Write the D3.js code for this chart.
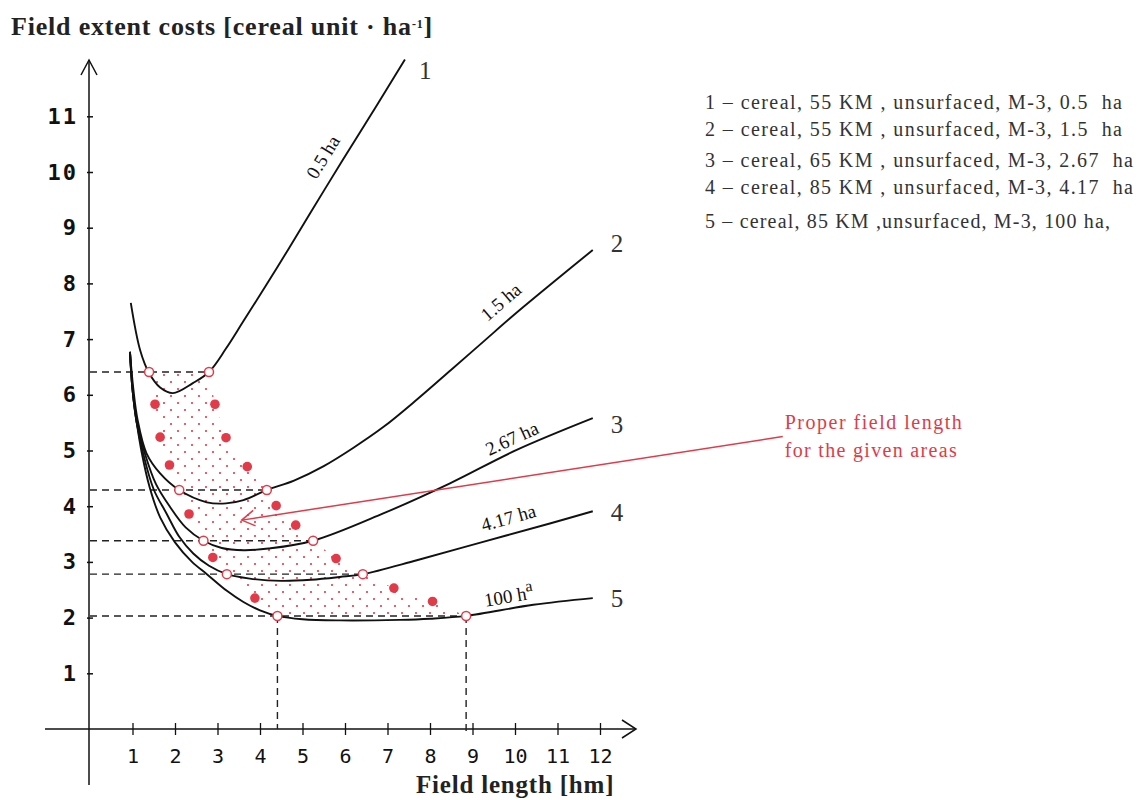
<!DOCTYPE html>
<html>
<head>
<meta charset="utf-8">
<script src="https://cdn.jsdelivr.net/npm/d3@7"></script>
<style>
  body { margin: 0; background: #fff; }
  svg { display: block; }
</style>
</head>
<body>
<svg id="chart" width="1139" height="800"></svg>
<script>
// ---- data ----
const xTicks = [1, 2, 3, 4, 5, 6, 7, 8, 9, 10, 11, 12]
const yTicks = [1, 2, 3, 4, 5, 6, 7, 8, 9, 10, 11]

const curveNames = ["1", "2", "3", "4", "5"]
const curveAreas = ["0.5 ha", "1.5 ha", "2.67 ha", "4.17 ha", "100 h"]
const legendLines = [
  "1 \u2013 cereal, 55 KM , unsurfaced, M-3, 0.5  ha",
  "2 \u2013 cereal, 55 KM , unsurfaced, M-3, 1.5  ha",
  "3 \u2013 cereal, 65 KM , unsurfaced, M-3, 2.67  ha",
  "4 \u2013 cereal, 85 KM , unsurfaced, M-3, 4.17  ha",
  "5 \u2013 cereal, 85 KM ,unsurfaced, M-3, 100 ha,"
]

// cost curves (x = field length hm, y = cost)
const curve1X = [0.96, 1.18, 1.39, 1.65, 1.95, 2.42, 2.80, 3.20, 3.60, 4.40, 5.18, 5.95, 6.75, 7.41]
const curve1Y = [7.65, 6.80, 6.39, 6.13, 6.03, 6.21, 6.41, 6.83, 7.31, 8.28, 9.26, 10.22, 11.20, 12.02]
const curve2X = [0.94, 1.02, 1.12, 1.33, 1.65, 2.10, 2.75, 3.20, 3.61, 4.16, 4.80, 5.50, 6.20, 6.90, 7.70, 8.50, 9.25, 10.00, 10.90, 11.83]
const curve2Y = [6.77, 6.10, 5.55, 4.95, 4.59, 4.29, 4.07, 4.05, 4.11, 4.29, 4.46, 4.72, 5.05, 5.42, 5.92, 6.45, 6.95, 7.45, 8.02, 8.60]
const curve3X = [0.94, 1.00, 1.10, 1.29, 1.55, 1.88, 2.25, 2.67, 3.10, 3.61, 4.20, 5.25, 6.90, 8.47, 10.04, 11.83]
const curve3Y = [6.77, 6.10, 5.50, 4.95, 4.40, 3.99, 3.62, 3.38, 3.25, 3.21, 3.24, 3.38, 3.87, 4.41, 5.01, 5.58]
const curve4X = [0.94, 1.00, 1.10, 1.25, 1.50, 1.80, 2.10, 2.43, 2.80, 3.22, 3.76, 4.50, 5.20, 5.88, 6.42, 7.69, 9.25, 10.82, 11.83]
const curve4Y = [6.77, 6.10, 5.50, 4.95, 4.30, 3.87, 3.45, 3.15, 2.93, 2.78, 2.70, 2.66, 2.68, 2.73, 2.78, 3.03, 3.36, 3.69, 3.91]
const curve5X = [0.94, 1.00, 1.10, 1.22, 1.40, 1.65, 2.00, 2.40, 2.75, 3.22, 3.61, 4.00, 4.41, 5.00, 5.88, 7.29, 8.00, 8.85, 10.43, 11.83]
const curve5Y = [6.77, 6.10, 5.50, 4.95, 4.35, 3.80, 3.35, 3.00, 2.78, 2.48, 2.28, 2.13, 2.03, 1.97, 1.95, 1.96, 1.98, 2.03, 2.23, 2.35]

// optimum range per area: cost level, left and right end
const optLevel = [6.41, 4.29, 3.38, 2.78, 2.03]
const optLeft = [1.39, 2.10, 2.67, 3.22, 4.41]
const optRight = [2.80, 4.16, 5.25, 6.42, 8.85]

// red dots marking the edges of the proper range
const leftDotsX = [1.53, 1.65, 1.87, 2.33, 2.89, 3.88]
const leftDotsY = [5.83, 5.24, 4.74, 3.86, 3.08, 2.35]
const rightDotsX = [2.94, 3.20, 3.70, 4.38, 4.84, 5.79, 7.15, 8.06]
const rightDotsY = [5.83, 5.23, 4.71, 4.01, 3.66, 3.06, 2.53, 2.29]

// annotation arrow (data units)
const arrowFrom = [16.3, 5.25]
const arrowTo = [3.57, 3.75]
const noteLines = ["Proper field length", "for the given areas"]

// where the area labels sit along each curve
const areaLabelX = [5.85, 9.95, 10.05, 9.95, 9.9]

// ---- layout ----
const svg = d3.select("#chart")
const x = d3.scaleLinear().domain([0, 12]).range([90, 600])
const y = d3.scaleLinear().domain([0, 11]).range([729, 116.3])
const red = "#e23a48"
const ink = "#111"

const curves = [
  d3.zip(curve1X, curve1Y), d3.zip(curve2X, curve2Y), d3.zip(curve3X, curve3Y),
  d3.zip(curve4X, curve4Y), d3.zip(curve5X, curve5Y)
]

// stipple pattern
const defs = svg.append("defs")
const pat = defs.append("pattern").attr("id", "stip").attr("patternUnits", "userSpaceOnUse")
  .attr("width", 14).attr("height", 14)
pat.append("circle").attr("cx", 3).attr("cy", 4).attr("r", 1.1).attr("fill", red)
pat.append("circle").attr("cx", 10).attr("cy", 11).attr("r", 1.1).attr("fill", red)

// region between the edges
const leftEdge = d3.zip(optLeft, optLevel).concat(d3.zip(leftDotsX, leftDotsY)).sort((a, b) => b[1] - a[1])
const rightEdge = d3.zip(optRight, optLevel).concat(d3.zip(rightDotsX, rightDotsY)).sort((a, b) => a[1] - b[1])
svg.append("path")
  .attr("d", "M" + leftEdge.concat(rightEdge).map(p => x(p[0]) + "," + y(p[1])).join("L") + "Z")
  .attr("fill", "url(#stip)")

// axes lines with open arrow heads
const axisG = svg.append("g").attr("stroke", ink).attr("stroke-width", 1.5).attr("fill", "none")
axisG.append("line").attr("x1", x(0) - 1).attr("x2", x(0) - 1).attr("y1", 60).attr("y2", 785)
axisG.append("path").attr("d", `M${x(0) - 9},${75}L${x(0) - 1},${60}L${x(0) + 7},${75}`)
axisG.append("line").attr("x1", 45).attr("x2", 636).attr("y1", y(0)).attr("y2", y(0))
axisG.append("path").attr("d", `M${622},${y(0) - 9}L${636},${y(0)}L${622},${y(0) + 9}`)

// y axis ticks + labels
const yAxis = svg.append("g").attr("transform", `translate(${x(0) - 1},0)`)
  .call(d3.axisLeft(y).tickValues(yTicks).tickSize(3).tickPadding(10))
yAxis.select(".domain").remove()
yAxis.selectAll(".tick line").attr("x1", -2).attr("x2", 4).attr("stroke", ink).attr("stroke-width", 1.5)
yAxis.selectAll(".tick text")
  .attr("font-family", "'DejaVu Sans Mono', monospace").attr("font-weight", "bold")
  .attr("font-size", 22).attr("letter-spacing", 2).attr("fill", ink).attr("x", -11)

// x axis ticks + labels
const xAxis = svg.append("g").attr("transform", `translate(0,${y(0)})`)
  .call(d3.axisBottom(x).tickValues(xTicks).tickSize(6).tickPadding(14))
xAxis.select(".domain").remove()
xAxis.selectAll(".tick line").attr("y1", -6).attr("y2", 6).attr("stroke", ink).attr("stroke-width", 1.3)
xAxis.selectAll(".tick text")
  .attr("font-family", "'DejaVu Sans Mono', monospace")
  .attr("font-size", 20).attr("fill", ink)

// dashed guide lines
const dash = svg.append("g").attr("stroke", "#222").attr("stroke-width", 1.4).attr("stroke-dasharray", "7,5")
optLevel.forEach((lv, i) => {
  dash.append("line").attr("x1", x(0)).attr("x2", x(optRight[i])).attr("y1", y(lv)).attr("y2", y(lv))
})
dash.append("line").attr("x1", x(optLeft[4])).attr("x2", x(optLeft[4])).attr("y1", y(optLevel[4])).attr("y2", y(0))
dash.append("line").attr("x1", x(optRight[4])).attr("x2", x(optRight[4])).attr("y1", y(optLevel[4])).attr("y2", y(0) + 6)

// curves
const line = d3.line().x(d => x(d[0])).y(d => y(d[1])).curve(d3.curveCatmullRom.alpha(0.5))
svg.append("g").selectAll("path").data(curves).join("path")
  .attr("d", line).attr("fill", "none").attr("stroke", ink).attr("stroke-width", 1.9)

// curve numbers at the ends
const endOffsets = [[14, 14], [18, -4], [18, 9], [18, 4], [18, 3]]
svg.append("g").selectAll("text").data(curves).join("text")
  .attr("x", (d, i) => x(d[d.length - 1][0]) + endOffsets[i][0])
  .attr("y", (d, i) => y(d[d.length - 1][1]) + endOffsets[i][1])
  .attr("dominant-baseline", "middle")
  .attr("font-family", "'Liberation Serif', serif").attr("font-size", 25).attr("fill", "#333")
  .text((d, i) => curveNames[i])

// area labels along the curves
const labelLift = [12, 12, 6, 10, 6]
curves.forEach((c, i) => {
  const f = d3.scaleLinear().domain(c.map(p => p[0])).range(c.map(p => p[1]))
  const lx = areaLabelX[i]
  const px = x(lx), py = y(f(lx))
  const dx = x(lx + 0.25) - x(lx - 0.25), dy = y(f(lx + 0.25)) - y(f(lx - 0.25))
  const ang = Math.atan2(dy, dx) * 180 / Math.PI
  const t = svg.append("text")
    .attr("transform", `translate(${px},${py}) rotate(${ang})`)
    .attr("y", -labelLift[i])
    .attr("text-anchor", "middle")
    .attr("font-family", "'Liberation Serif', serif").attr("font-size", 19).attr("fill", ink)
    .text(curveAreas[i])
  if (i === 4) t.append("tspan").attr("baseline-shift", "super").attr("font-size", 16).text("a")
})

// annotation arrow
const ax0 = x(arrowFrom[0]), ay0 = y(arrowFrom[1]), ax1 = x(arrowTo[0]), ay1 = y(arrowTo[1])
const aa = Math.atan2(ay0 - ay1, ax0 - ax1)
const arr = svg.append("g").attr("stroke", red).attr("stroke-width", 1.5).attr("fill", "none")
arr.append("line").attr("x1", ax0).attr("y1", ay0).attr("x2", ax1).attr("y2", ay1)
arr.append("path").attr("d", `M${ax1 + 15 * Math.cos(aa - 0.55)},${ay1 + 15 * Math.sin(aa - 0.55)}L${ax1},${ay1}L${ax1 + 15 * Math.cos(aa + 0.55)},${ay1 + 15 * Math.sin(aa + 0.55)}`)
svg.append("g").selectAll("text").data(noteLines).join("text")
  .attr("x", ax0 + 2).attr("y", (d, i) => ay0 - 8 + i * 28)
  .attr("font-family", "'Liberation Serif', serif").attr("font-size", 20).attr("fill", red)
  .attr("textLength", (d, i) => [177, 172][i]).attr("lengthAdjust", "spacing")
  .text(d => d)

// red markers: filled dots then open circles
const dotsG = svg.append("g").attr("fill", red)
d3.zip(leftDotsX.concat(rightDotsX), leftDotsY.concat(rightDotsY)).forEach(p => {
  dotsG.append("circle").attr("cx", x(p[0])).attr("cy", y(p[1])).attr("r", 4.8)
})
const circG = svg.append("g").attr("fill", "#fff").attr("stroke", red).attr("stroke-width", 1.5)
d3.zip(optLeft.concat(optRight), optLevel.concat(optLevel)).forEach(p => {
  circG.append("circle").attr("cx", x(p[0])).attr("cy", y(p[1])).attr("r", 4.5)
})

// titles
const title = svg.append("text").attr("x", 11).attr("y", 35)
  .attr("font-family", "'Liberation Serif', serif").attr("font-weight", "bold").attr("font-size", 26)
  .attr("letter-spacing", 0.8).attr("fill", "#222")
  .text("Field extent costs [cereal unit \u00b7 ha")
title.append("tspan").attr("baseline-shift", "super").attr("font-size", 12).text("-1")
title.append("tspan").text("]")

svg.append("text").attr("x", 416).attr("y", 793)
  .attr("font-family", "'Liberation Serif', serif").attr("font-weight", "bold").attr("font-size", 25)
  .attr("letter-spacing", 0.8).attr("fill", "#222")
  .text("Field length [hm]")

// legend
svg.append("g").selectAll("text").data(legendLines).join("text")
  .attr("x", 705).attr("y", (d, i) => [109, 136, 167, 194, 228][i])
  .attr("font-family", "'Liberation Serif', serif").attr("font-size", 20).attr("fill", "#333")
  .attr("textLength", (d, i) => [417, 417, 428, 428, 405][i]).attr("lengthAdjust", "spacing")
  .style("white-space", "pre")
  .text(d => d)
</script>
</body>
</html>
